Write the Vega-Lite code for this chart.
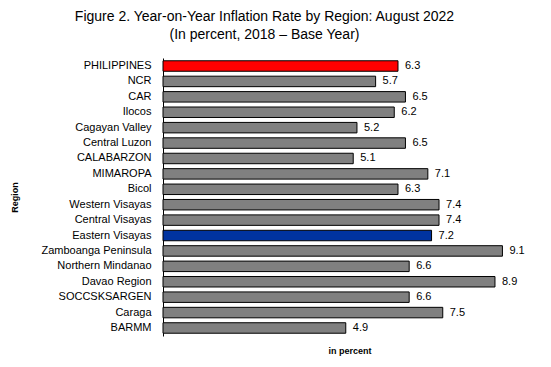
{
  "$schema": "https://vega.github.io/schema/vega-lite/v6.json",
  "autosize": "none",
  "width": 373,
  "height": 278,
  "padding": {"left": 163, "top": 58, "right": 15, "bottom": 31},
  "background": "white",
  "config": {
    "font": "Liberation Sans",
    "view": {"stroke": null}
  },
  "title": {
    "text": ["Figure 2. Year-on-Year Inflation Rate by Region: August 2022", "(In percent, 2018 – Base Year)"],
    "font": "Liberation Sans",
    "fontSize": 14,
    "fontWeight": "normal",
    "lineHeight": 18,
    "color": "black",
    "anchor": "middle",
    "frame": "group",
    "dx": -85,
    "offset": 16
  },
  "data": {
    "values": [
      {"region": "PHILIPPINES", "rate": 6.3, "grp": "ph"},
      {"region": "NCR", "rate": 5.7, "grp": "other"},
      {"region": "CAR", "rate": 6.5, "grp": "other"},
      {"region": "Ilocos", "rate": 6.2, "grp": "other"},
      {"region": "Cagayan Valley", "rate": 5.2, "grp": "other"},
      {"region": "Central Luzon", "rate": 6.5, "grp": "other"},
      {"region": "CALABARZON", "rate": 5.1, "grp": "other"},
      {"region": "MIMAROPA", "rate": 7.1, "grp": "other"},
      {"region": "Bicol", "rate": 6.3, "grp": "other"},
      {"region": "Western Visayas", "rate": 7.4, "grp": "other"},
      {"region": "Central Visayas", "rate": 7.4, "grp": "other"},
      {"region": "Eastern Visayas", "rate": 7.2, "grp": "ev"},
      {"region": "Zamboanga Peninsula", "rate": 9.1, "grp": "other"},
      {"region": "Northern Mindanao", "rate": 6.6, "grp": "other"},
      {"region": "Davao Region", "rate": 8.9, "grp": "other"},
      {"region": "SOCCSKSARGEN", "rate": 6.6, "grp": "other"},
      {"region": "Caraga", "rate": 7.5, "grp": "other"},
      {"region": "BARMM", "rate": 4.9, "grp": "other"}
    ]
  },
  "encoding": {
    "y": {
      "field": "region",
      "type": "nominal",
      "sort": null,
      "scale": {"paddingInner": 0.32, "paddingOuter": 0.18},
      "axis": {
        "title": "Region",
        "titleFont": "Liberation Sans",
        "titleFontSize": 9,
        "titleFontWeight": "bold",
        "titleColor": "black",
        "titleX": -144,
        "titleY": 139,
        "titleAngle": -90,
        "labelFont": "Liberation Sans",
        "labelFontSize": 11,
        "labelColor": "black",
        "labelPadding": 12,
        "ticks": false,
        "domainColor": "black",
        "domainWidth": 1
      }
    },
    "x": {
      "field": "rate",
      "type": "quantitative",
      "scale": {"domain": [0, 10], "nice": false},
      "axis": {
        "title": "in percent",
        "titleFont": "Liberation Sans",
        "titleFontSize": 9,
        "titleFontWeight": "bold",
        "titleColor": "black",
        "titlePadding": 10,
        "labels": false,
        "ticks": false,
        "domain": false,
        "grid": false
      }
    }
  },
  "layer": [
    {
      "mark": {"type": "bar", "stroke": "black", "strokeWidth": 1},
      "encoding": {
        "color": {
          "field": "grp",
          "type": "nominal",
          "scale": {"domain": ["ph", "ev", "other"], "range": ["#FF0000", "#0033A0", "#808080"]},
          "legend": null
        }
      }
    },
    {
      "mark": {"type": "text", "align": "left", "dx": 7, "fontSize": 11, "font": "Liberation Sans", "color": "black"},
      "encoding": {
        "text": {"field": "rate", "type": "quantitative", "format": ".1f"}
      }
    }
  ]
}
